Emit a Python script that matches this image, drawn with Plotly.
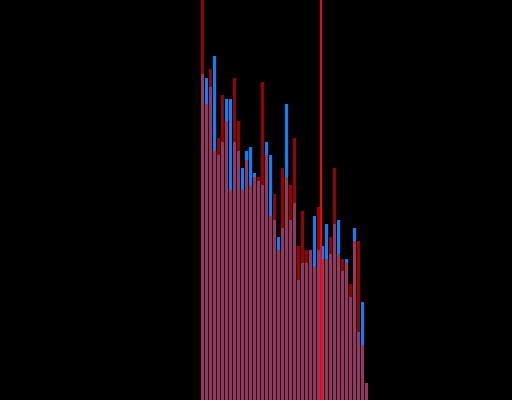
import plotly.graph_objects as go

bins = list(range(42))
blue_vals = [81.5, 80.5, 78.25, 86, 61.25, 64.5, 75.25, 75.25, 64.5, 62.25,
             58, 62.25, 63.25, 56.75, 54.75, 53.75, 64.5, 61.25, 45, 40.75,
             43, 74, 45, 49.25, 30, 34.25, 34.25, 37.5, 46, 37.5,
             38.5, 44, 36.5, 44, 45, 32.25, 35.25, 25.75, 43, 17,
             24.5, 4.25]
red_vals = [105, 74, 82.75, 62.25, 65.5, 76.25, 69.75, 52.5, 80.5, 69.75,
            52.5, 60, 53.75, 55.75, 55.75, 79.5, 61.25, 46, 51.5, 37.5,
            58, 55.75, 53.75, 65.5, 38.5, 47.25, 37.5, 37.5, 33.25, 48.25,
            35.25, 35.25, 40.75, 58, 36.5, 35.25, 34.25, 29, 39.75, 39.75,
            13.75, 4.25]
marker_x = 29.625

fig = go.Figure()
fig.add_trace(go.Bar(x=bins, y=blue_vals, marker=dict(color="rgb(0,132,255)", line=dict(width=0))))
fig.add_trace(go.Bar(x=bins, y=red_vals, marker=dict(color="rgb(255,0,0)", line=dict(width=0)), opacity=0.6))
fig.add_shape(type="line", x0=marker_x, x1=marker_x, y0=0, y1=1, yref="paper",
              line=dict(color="red", width=2))
fig.update_layout(
    width=512, height=400, barmode="overlay", bargap=0.25,
    margin=dict(l=0, r=0, t=0, b=0),
    paper_bgcolor="black", plot_bgcolor="black", showlegend=False,
    xaxis=dict(visible=False, range=[-50.625, 77.375]),
    yaxis=dict(visible=False, range=[0, 100]),
)
fig.write_html(
    "out.html",
    config={"displayModeBar": False},
    post_script="document.body.style.margin='0';document.body.style.background='black';",
)
